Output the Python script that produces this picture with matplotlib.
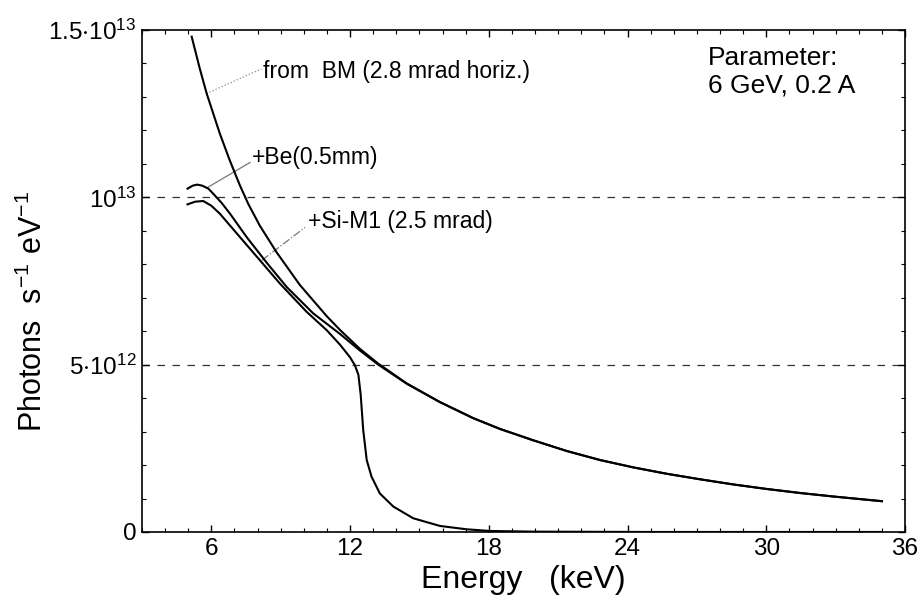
import numpy as np
import matplotlib
matplotlib.use("Agg")
import matplotlib.pyplot as plt
from matplotlib.ticker import FixedLocator, MultipleLocator

plt.rcParams['font.family'] = ['Liberation Sans', 'DejaVu Sans']
plt.rcParams['mathtext.fontset'] = 'custom'
plt.rcParams['mathtext.rm'] = 'Liberation Sans'
plt.rcParams['mathtext.it'] = 'Liberation Sans'
plt.rcParams['mathtext.default'] = 'regular'

# spectrum, energy in keV, flux in units of 1e12 photons/s/eV
bm_energy = [5.15, 5.5, 5.8, 6.37, 6.8, 7.24, 7.6, 8.1, 8.83, 9.83, 10.99, 11.56, 12.43, 13.22,
             14.45, 15.89, 17.33, 18.48, 19.92, 21.37, 22.81, 24.25, 25.69, 27.13, 28.58,
             30.02, 31.46, 32.9, 35.0]
bm_flux = [14.8, 13.85, 13.1, 11.9, 11.1, 10.35, 9.8, 9.15, 8.35, 7.38, 6.45, 6.04, 5.47, 5.03,
           4.44, 3.88, 3.4, 3.08, 2.74, 2.42, 2.15, 1.93, 1.74, 1.575, 1.42, 1.285, 1.165, 1.06, 0.92]

be_energy = [4.97, 5.2, 5.39, 5.6, 5.87, 6.08, 6.45, 6.81, 7.53, 8.39, 9.26, 10.41, 11.56, 12.43,
             13.22, 14.45, 15.89, 17.33, 18.48, 19.92, 21.37, 22.81, 24.25, 25.69, 27.13,
             28.58, 30.02, 31.46, 32.9, 35.0]
be_flux = [10.26, 10.35, 10.38, 10.35, 10.26, 10.11, 9.83, 9.51, 8.81, 8.05, 7.32, 6.53, 5.92, 5.42,
           5.0, 4.43, 3.88, 3.4, 3.08, 2.74, 2.42, 2.15, 1.93, 1.74, 1.575, 1.42, 1.285, 1.165, 1.06, 0.92]

si_energy = [4.97, 5.3, 5.65, 6.0, 6.37, 7.24, 8.1, 8.97, 10.12, 10.99, 11.56, 12.0, 12.21,
             12.36, 12.46, 12.57, 12.72, 12.93, 13.29, 13.87, 14.73, 15.89, 17.04, 18.05,
             20.0, 25.0, 35.0]
si_flux = [9.79, 9.87, 9.89, 9.75, 9.51, 8.81, 8.12, 7.42, 6.58, 6.03, 5.6, 5.22, 4.98,
           4.7, 4.1, 3.04, 2.15, 1.65, 1.15, 0.76, 0.41, 0.18, 0.08, 0.03, 0.01, 0.0, 0.0]

y_ticks = [0, 5, 10, 15]
y_labels = ['0', '5$\\cdot$10$^{12}$', '10$^{13}$', '1.5$\\cdot$10$^{13}$']
x_ticks = [6, 12, 18, 24, 30, 36]

fig = plt.figure(figsize=(9.23, 6.05), dpi=100)
ax = fig.add_axes([0.1538, 0.1207, 0.8267, 0.8297])

# dashed reference lines
for v in [5, 10]:
    ax.axhline(v, color='#333333', lw=0.9, ls=(0, (6, 6)), zorder=1)

ax.plot(bm_energy, bm_flux, color='black', lw=1.5, zorder=3)
ax.plot(be_energy, be_flux, color='black', lw=1.5, zorder=3)
ax.plot(si_energy, si_flux, color='black', lw=1.5, zorder=3)

ax.set_xlim(3, 36)
ax.set_ylim(0, 15)
ax.xaxis.set_major_locator(FixedLocator(x_ticks))
ax.xaxis.set_minor_locator(MultipleLocator(1))
ax.yaxis.set_major_locator(FixedLocator(y_ticks))
ax.yaxis.set_minor_locator(MultipleLocator(1))
ax.set_yticklabels(y_labels)
ax.tick_params(which='both', direction='in', top=True, right=True, labelsize=17.5, pad=4)
ax.tick_params(which='major', length=5, width=1)
ax.tick_params(which='minor', length=3, width=0.8)
for s in ax.spines.values():
    s.set_linewidth(1.2)

ax.set_xlabel('Energy   (keV)', fontsize=23, labelpad=4)
ax.set_ylabel('Photons  s$^{-1}$ eV$^{-1}$', fontsize=22)
ax.yaxis.set_label_coords(-0.122, 0.44)

# text labels and their leader lines
ax.text(8.23, 13.58, 'from  BM (2.8 mrad horiz.)', fontsize=16.5, va='baseline', ha='left')
ax.plot([5.79, 8.17], [13.1, 13.84], color='#888888', lw=0.9, ls=':')
ax.text(7.76, 10.99, '+Be(0.5mm)', fontsize=16.5, va='baseline', ha='left')
ax.plot([5.85, 7.67], [10.3, 11.04], color='#777777', lw=0.9)
ax.text(10.18, 9.07, '+Si-M1 (2.5 mrad)', fontsize=16.5, va='baseline', ha='left')
ax.plot([8.19, 10.05], [8.12, 9.1], color='#777777', lw=0.9, ls='-.')

ax.text(27.48, 13.94, 'Parameter:', fontsize=19, va='baseline', ha='left')
ax.text(27.48, 13.13, '6 GeV, 0.2 A', fontsize=19, va='baseline', ha='left')

fig.savefig('out.png', dpi=100)
